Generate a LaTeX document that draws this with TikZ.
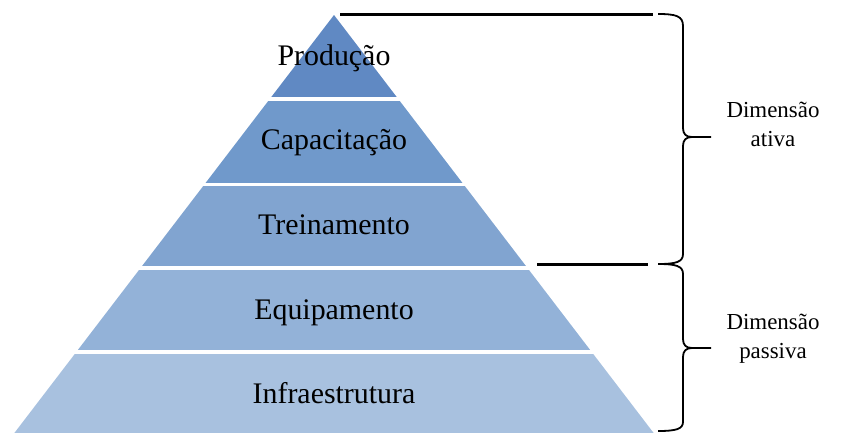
\documentclass[tikz,border=0pt]{standalone}
\usepackage{fontspec}
\setmainfont{Liberation Serif}
\usetikzlibrary{positioning}
\definecolor{prodblue}{HTML}{6089C3}
\definecolor{capblue}{HTML}{7099CB}
\definecolor{treiblue}{HTML}{81A4D0}
\definecolor{equiblue}{HTML}{93B2D8}
\definecolor{infrablue}{HTML}{A8C1DF}
\tikzset{layer/.style={fill=#1,draw=none},
lbl/.style={font=\fontsize{30}{34}\selectfont,anchor=base,inner sep=0pt},
dim/.style={font=\fontsize{23}{29}\selectfont,align=center},
bar/.style={line width=3bp},
brace/.style={line width=1.8bp,line join=round}
}

\begin{document}
\begin{tikzpicture}[x=1bp,y=-1bp]
    \useasboundingbox (0,0) rectangle (847,432);
    \coordinate (apex)  at (334,15);
    \coordinate (baseL) at (9,440);
    \coordinate (baseR) at (659,440);

    % pyramid layers
    \begin{scope}
      \clip (apex) -- (baseL) -- (baseR) -- cycle;
      \fill[layer=prodblue]  (0,0)   rectangle (847,97);
      \fill[layer=capblue]   (0,101) rectangle (847,183);
      \fill[layer=treiblue]  (0,186) rectangle (847,266);
      \fill[layer=equiblue]  (0,270) rectangle (847,350);
      \fill[layer=infrablue] (0,354) rectangle (847,440);
    \end{scope}

    \node[lbl] (prod)  at (334,65)  {Produção};
    \node[lbl] (capa)  at (334,149) {Capacitação};
    \node[lbl] (trei)  at (334,234) {Treinamento};
    \node[lbl] (equi)  at (334,319) {Equipamento};
    \node[lbl] (infra) at (334,403) {Infraestrutura};

    % bars and braces
    \coordinate (barA)  at (340,14);
    \coordinate (barB)  at (653,14);
    \coordinate (barC)  at (537,264);
    \coordinate (barD)  at (648,264);
    \coordinate (topA)  at (658,14);
    \coordinate (tipA)  at (711,137);
    \coordinate (topB)  at (658,264);
    \coordinate (tipB)  at (711,348);
    \coordinate (endB)  at (658,431);

    \draw[bar] (barA) -- (barB);
    \draw[bar] (barC) -- (barD);

    \draw[brace] (topA) .. controls (676,14) and (683,16) .. (683,26) -- (683,128)
                 .. controls (683,134) and (686,137) .. (692,137) -- (tipA);
    \draw[brace] (692,137) .. controls (686,137) and (683,140) .. (683,146) -- (683,254)
                 .. controls (683,262) and (676,264) .. (topB);
    \draw[brace] (topB) .. controls (676,264) and (683,266) .. (683,274) -- (683,339)
                 .. controls (683,345) and (686,348) .. (692,348) -- (tipB);
    \draw[brace] (692,348) .. controls (686,348) and (683,351) .. (683,357) -- (683,422)
                 .. controls (683,429) and (676,431) .. (endB);

    \node[dim] (ativa)   at (773,124) {Dimensão\\ativa};
    \node[dim] (passiva) at (773,339) {Dimensão\\passiva};
\end{tikzpicture}
\end{document}
